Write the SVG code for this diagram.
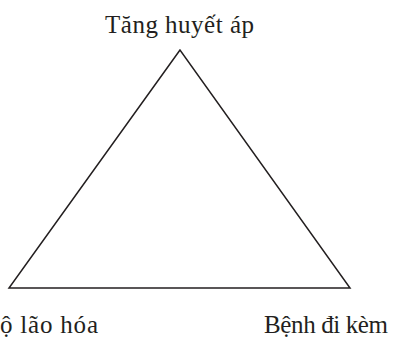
<svg xmlns="http://www.w3.org/2000/svg" width="410" height="341" viewBox="0 0 410 341">
<style>
.lbl{font-family:"Liberation Serif","DejaVu Serif",serif;font-size:25px;fill:#231f20}
.edge{fill:none;stroke:#231f20;stroke-width:1.5;stroke-linejoin:miter}
</style>
<rect width="410" height="341" fill="#fff"/>
<g id="connectors">
<polygon class="edge" points="180,50 9,288 350,288"/>
</g>
<g id="node-top"><text class="lbl" x="105" y="33" textLength="149" lengthAdjust="spacing">Tăng huyết áp</text></g>
<g id="node-left"><text class="lbl" x="0" y="333" textLength="98" lengthAdjust="spacing">ộ lão hóa</text></g>
<g id="node-right"><text class="lbl" x="264" y="333" textLength="124" lengthAdjust="spacing">Bệnh đi kèm</text></g>
</svg>
